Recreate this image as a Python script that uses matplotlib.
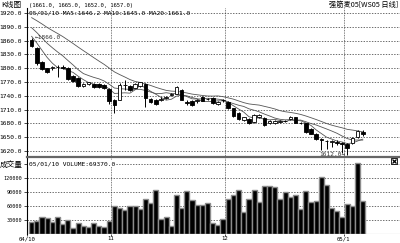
import matplotlib
matplotlib.use("Agg")
import matplotlib.pyplot as plt
import numpy as np

plt.rcParams['font.family'] = ['DejaVu Sans Mono', 'Noto Sans CJK SC']

# ── Data (daily bars, WS05) ─────────────────────────────────────────────────
OPEN = [1861, 1844, 1813, 1800, 1801, 1802, 1803, 1801, 1784, 1779,
        1761, 1765, 1766, 1766, 1763, 1755, 1732, 1731, 1763, 1761,
        1758, 1761, 1766, 1733, 1731, 1732, 1735, 1742, 1745, 1753,
        1726, 1729, 1729, 1738, 1733, 1735, 1723, 1730, 1727, 1713,
        1702, 1688, 1689, 1684, 1694, 1691, 1681, 1682, 1683, 1685,
        1690, 1693, 1681, 1680, 1667, 1658, 1646, 1641, 1640, 1640,
        1637, 1635, 1637, 1650, 1661]
HIGH = [1866, 1846, 1815, 1801, 1804, 1806, 1806, 1803, 1786, 1780,
        1767, 1771, 1769, 1768, 1765, 1757, 1734, 1768, 1775, 1764,
        1768, 1771, 1768, 1735, 1733, 1737, 1740, 1746, 1762, 1754,
        1730, 1731, 1733, 1740, 1736, 1737, 1729, 1733, 1729, 1714,
        1704, 1695, 1691, 1700, 1701, 1693, 1688, 1687, 1687, 1688,
        1697, 1695, 1684, 1681, 1669, 1660, 1648, 1644, 1643, 1643,
        1640, 1637, 1650, 1665, 1665]
LOW = [1846, 1808, 1797, 1789, 1796, 1782, 1798, 1775, 1770, 1759,
       1759, 1763, 1757, 1756, 1754, 1722, 1703, 1730, 1752, 1750,
       1756, 1759, 1716, 1724, 1720, 1728, 1733, 1740, 1744, 1730,
       1720, 1718, 1725, 1728, 1730, 1723, 1721, 1727, 1711, 1695,
       1688, 1686, 1678, 1682, 1692, 1675, 1678, 1679, 1680, 1683,
       1688, 1680, 1678, 1660, 1656, 1644, 1622, 1625, 1628, 1633,
       1615, 1612, 1635, 1649, 1652]
CLOSE = [1849, 1812, 1799, 1792, 1803, 1802, 1801, 1777, 1772, 1761,
         1765, 1769, 1760, 1760, 1757, 1729, 1720, 1763, 1764, 1753,
         1766, 1769, 1735, 1726, 1722, 1732, 1738, 1745, 1760, 1732,
         1725, 1720, 1731, 1729, 1734, 1725, 1727, 1730, 1713, 1697,
         1690, 1693, 1680, 1698, 1698, 1677, 1686, 1685, 1686, 1685,
         1695, 1682, 1681, 1662, 1658, 1646, 1643, 1642, 1641, 1637,
         1635, 1626, 1648, 1663, 1657]
VOLUME = [26000, 28000, 37000, 35000, 26000, 36000, 21000, 29000, 12000, 24000,
          16000, 15000, 24000, 16000, 14000, 28000, 59000, 55000, 51000, 59000,
          59000, 53000, 74000, 65000, 94000, 32000, 36000, 17000, 83000, 55000,
          92000, 72000, 61000, 61000, 67000, 23000, 20000, 31000, 74000, 84000,
          94000, 46000, 74000, 94000, 68000, 103000, 103000, 100000, 74000, 89000,
          78000, 84000, 54000, 91000, 68000, 70000, 121000, 104000, 56000, 49000,
          36000, 63000, 59000, 151000, 69370]
# closes of the 19 sessions before the first bar (feed the moving averages)
PREV_CLOSE = [1945, 1940, 1943, 1937, 1930, 1934, 1928, 1924, 1920, 1918,
              1918, 1915, 1908, 1900, 1893, 1885, 1878, 1870, 1865]

PRICE_TICKS = [1620, 1650, 1680, 1710, 1740, 1770, 1800, 1830, 1860, 1890, 1920]
VOL_TICKS = [30000, 60000, 90000, 120000, 150000]
MONTH_FIRST_BAR = [16, 38, 61]
MONTH_LABELS = ["11", "12", "05/1"]
FIRST_LABEL = "04/10"

TITLE_LEFT = "K线图"
TITLE_OHLC = "(1661.0, 1665.0, 1652.0, 1657.0)"
TITLE_RIGHT = "强筋麦05[WS05 日线]"
MA_TEXT = "05/01/10 MA5:1646.2 MA10:1645.0 MA20:1661.0"
VOL_TEXT = "05/01/10 VOLUME:69370.0"


def moving_avg(closes, n, offset):
    out = []
    for i in range(offset, len(closes)):
        out.append(np.mean(closes[i - n + 1:i + 1]))
    return np.array(out)


def main():
    W, H = 400, 243
    fig = plt.figure(figsize=(W / 100, H / 100), dpi=100)
    fig.patch.set_facecolor("white")

    left, right = 27, 400
    p_top, p_bot = 8, 157
    v_top, v_bot = 157, 234
    ax_p = fig.add_axes([left / W, 1 - p_bot / H, (right - left) / W, (p_bot - p_top) / H])
    ax_v = fig.add_axes([left / W, 1 - v_bot / H, (right - left) / W, (v_bot - v_top) / H],
                        sharex=ax_p)

    n = len(CLOSE)
    x = np.arange(n)
    o, h, l, c = map(np.array, (OPEN, HIGH, LOW, CLOSE))
    up = c >= o

    # candles
    ax_p.vlines(x, l, h, color="black", linewidth=0.7, zorder=3)
    body_lo = np.minimum(o, c)
    body_h = np.maximum(np.abs(c - o), 0.6)
    ax_p.bar(x[up], body_h[up], bottom=body_lo[up], width=0.7,
             facecolor="white", edgecolor="black", linewidth=0.6, zorder=4)
    ax_p.bar(x[~up], body_h[~up], bottom=body_lo[~up], width=0.7,
             facecolor="black", edgecolor="black", linewidth=0.6, zorder=4)

    # moving averages
    closes = np.array(PREV_CLOSE + CLOSE, dtype=float)
    off = len(PREV_CLOSE)
    for win in (5, 10, 20):
        ma = moving_avg(closes, win, off)
        ax_p.plot(x, ma, color="#555555", linewidth=0.6, zorder=2)

    # high / low marks
    i_hi = int(np.argmax(h))
    i_lo = int(np.argmin(l))
    ax_p.text(i_hi + 0.6, h[i_hi], "\u2190%.1f" % h[i_hi], fontsize=4.4,
              ha="left", va="center", color="#333333", zorder=5)
    ax_p.text(i_lo - 0.4, l[i_lo], "%.1f\u2192" % l[i_lo], fontsize=4.4,
              ha="right", va="center", color="#333333", zorder=5)

    ax_p.set_ylim(1607, 1931)
    ax_p.set_xlim(-0.9, 71.2)
    ax_p.set_yticks(PRICE_TICKS)
    ax_p.set_yticklabels(["%.1f" % t for t in PRICE_TICKS], fontsize=4.5)

    # volume
    ax_v.bar(x, VOLUME, width=1.0, facecolor="black", edgecolor="#8c8c8c",
             linewidth=1.0, zorder=3)
    ax_v.set_ylim(0, 164000)
    ax_v.set_yticks(VOL_TICKS)
    labels = [str(t) for t in VOL_TICKS[:-1]] + ["成交量"]
    ax_v.set_yticklabels(labels, fontsize=3.7)
    ax_v.get_yticklabels()[-1].set_fontfamily(["Noto Sans CJK SC", "DejaVu Sans"])
    ax_v.get_yticklabels()[-1].set_fontsize(5.5)

    month_pos = [m - 0.7 for m in MONTH_FIRST_BAR]
    ax_v.set_xticks([-0.9] + month_pos)
    ax_v.set_xticklabels([FIRST_LABEL] + MONTH_LABELS, fontsize=4.1)

    for ax in (ax_p, ax_v):
        for s in ("top", "right", "bottom"):
            ax.spines[s].set_visible(False)
        ax.spines["left"].set_linestyle((0, (1, 1)))
        ax.spines["left"].set_linewidth(0.8)
        ax.tick_params(axis="y", length=2, width=0.5, pad=1.5, colors="black")
        ax.tick_params(axis="x", length=1.5, width=0.5, pad=0)
        ax.grid(axis="y", color="#333333", linestyle=(0, (2, 2)), linewidth=0.5)
        for mp in month_pos:
            ax.axvline(mp, color="#555555", linestyle=(0, (1, 1)), linewidth=0.6, zorder=1)
    ax_p.tick_params(axis="x", bottom=False, labelbottom=False)

    # panel separators
    ax_v.axhline(164000, color="#666666", linewidth=1.6, zorder=6, clip_on=False)
    ax_v.axhline(0, color="#999999", linewidth=0.8, zorder=6)

    # headers
    fig.text(1 / W, 1 - 5 / H, TITLE_LEFT, fontsize=5.5, va="center", ha="left",
             family=["Noto Sans CJK SC", "DejaVu Sans"])
    fig.text(29 / W, 1 - 5 / H, TITLE_OHLC, fontsize=4.0, va="center", ha="left")
    fig.text(398 / W, 1 - 5 / H, TITLE_RIGHT, fontsize=5.2, va="center", ha="right",
             family=["Noto Sans CJK SC", "DejaVu Sans"])
    ax_p.text(0.005, 1920, MA_TEXT, transform=ax_p.get_yaxis_transform(),
              fontsize=4.5, va="center", ha="left", zorder=6)
    ax_v.text(0.005, 150000, VOL_TEXT, transform=ax_v.get_yaxis_transform(),
              fontsize=4.5, va="center", ha="left", zorder=6,
              bbox=dict(facecolor="white", edgecolor="none", pad=0.5))

    # close box icon in volume pane
    ax_v.plot([0.985], [0.95], marker="s", markersize=4, markerfacecolor="white",
              markeredgecolor="black", markeredgewidth=0.6,
              transform=ax_v.transAxes, clip_on=False, zorder=7)
    ax_v.plot([0.985], [0.95], marker="x", markersize=3, color="black",
              markeredgewidth=0.9, transform=ax_v.transAxes, clip_on=False, zorder=8)

    fig.savefig("out.png", dpi=100)


if __name__ == "__main__":
    main()
